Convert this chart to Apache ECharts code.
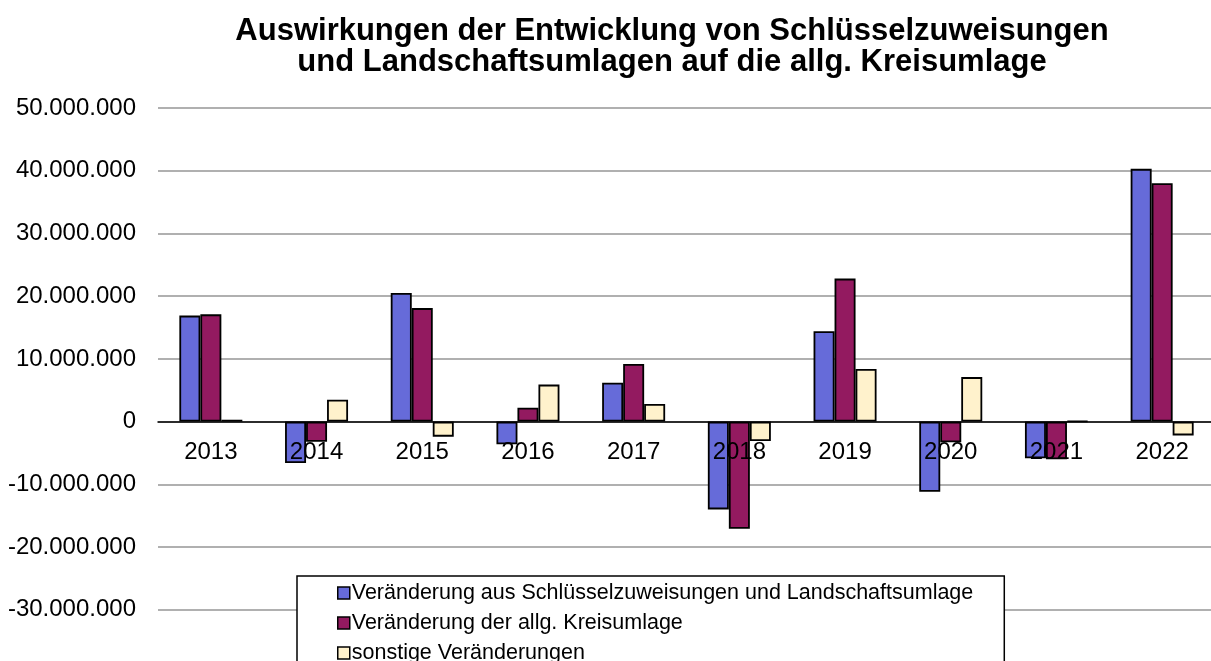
<!DOCTYPE html>
<html>
<head>
<meta charset="utf-8">
<script src="https://cdn.jsdelivr.net/npm/echarts@6/dist/echarts.min.js"></script>
<style>
  html, body { margin: 0; padding: 0; background: #fff; }
  #chart { width: 1211px; height: 661px; }
</style>
</head>
<body>
<div id="chart"></div>
<script>
// Daten (Euro)
var jahre = ['2013', '2014', '2015', '2016', '2017', '2018', '2019', '2020', '2021', '2022'];
var schluesselzuweisungen = [16900000, -6600000, 20500000, -3600000, 6200000, -14000000, 14400000, -11200000, -5850000, 40300000];
var kreisumlage = [17100000, -3200000, 18100000, 2200000, 9200000, -17100000, 22800000, -3300000, -6000000, 38000000];
var sonstige = [300000, 3500000, -2400000, 5900000, 2800000, -3100000, 8400000, 7100000, 100000, -2200000];
var serienNamen = [
    'Veränderung aus Schlüsselzuweisungen und Landschaftsumlage',
    'Veränderung der allg. Kreisumlage',
    'sonstige Veränderungen'
];
var farben = ['#666bd9', '#931a60', '#fff2cc'];

var schrift = 'Liberation Sans, Arial, sans-serif';

// Plotbereich: oben 108, unten 672.5 (unterhalb des Fensters abgeschnitten)
var gridTop = 108, gridBottom = -11.5;
var yMin = -40000000, yMax = 50000000;
var plotH = 661 - gridTop - gridBottom;
var nullAbstand = plotH * (0 - yMin) / (yMax - yMin); // Abstand Nulllinie -> unterer Rand

function tausender(v) {
    var s = String(Math.abs(v)).replace(/\B(?=(\d{3})+(?!\d))/g, '.');
    return (v < 0 ? '-' : '') + s;
}

function balken(name, daten, farbe) {
    return {
        name: name,
        type: 'bar',
        data: daten,
        barWidth: 21,
        barGap: 0,
        itemStyle: { color: farbe, borderColor: '#000', borderWidth: 1.8 }
    };
}

var option = {
    backgroundColor: '#fff',
    animation: false,
    title: {
        text: 'Auswirkungen der Entwicklung von Schlüsselzuweisungen\nund Landschaftsumlagen auf die allg. Kreisumlage',
        left: 667,
        top: 11,
        textAlign: 'center',
        textStyle: { fontFamily: schrift, fontSize: 31, fontWeight: 'bold', color: '#000', lineHeight: 31 }
    },
    legend: {
        orient: 'vertical',
        left: 297,
        top: 576,
        height: 200,
        data: serienNamen,
        icon: 'rect',
        itemWidth: 12,
        itemHeight: 12,
        itemGap: 8,
        padding: [6, 31, 30, 40],
        backgroundColor: '#fff',
        borderColor: '#000',
        borderWidth: 1.5,
        itemStyle: { borderColor: '#000', borderWidth: 1.5 },
        textStyle: { fontFamily: schrift, fontSize: 21.5, color: '#000', lineHeight: 20, padding: [0, 0, 0, -3] }
    },
    grid: { left: 158, right: -4, top: gridTop, bottom: gridBottom, outerBoundsMode: 'none' },
    xAxis: {
        type: 'category',
        data: jahre,
        z: 5,
        position: 'bottom',
        offset: -nullAbstand,
        axisLine: { onZero: false, lineStyle: { color: '#000', width: 1.5 } },
        axisTick: { show: false },
        axisLabel: { fontFamily: schrift, fontSize: 24, color: '#000', margin: 19 },
        splitLine: { show: false }
    },
    yAxis: {
        type: 'value',
        min: yMin,
        max: yMax,
        interval: 10000000,
        axisLine: { show: false },
        axisTick: { show: false },
        axisLabel: { fontFamily: schrift, fontSize: 24, color: '#000', margin: 22, formatter: tausender },
        splitLine: { lineStyle: { color: '#b0b0b0', width: 2 } }
    },
    series: [
        balken(serienNamen[0], schluesselzuweisungen, farben[0]),
        balken(serienNamen[1], kreisumlage, farben[1]),
        balken(serienNamen[2], sonstige, farben[2])
    ]
};

var myChart = echarts.init(document.getElementById('chart'));
myChart.setOption(option);
</script>
</body>
</html>
